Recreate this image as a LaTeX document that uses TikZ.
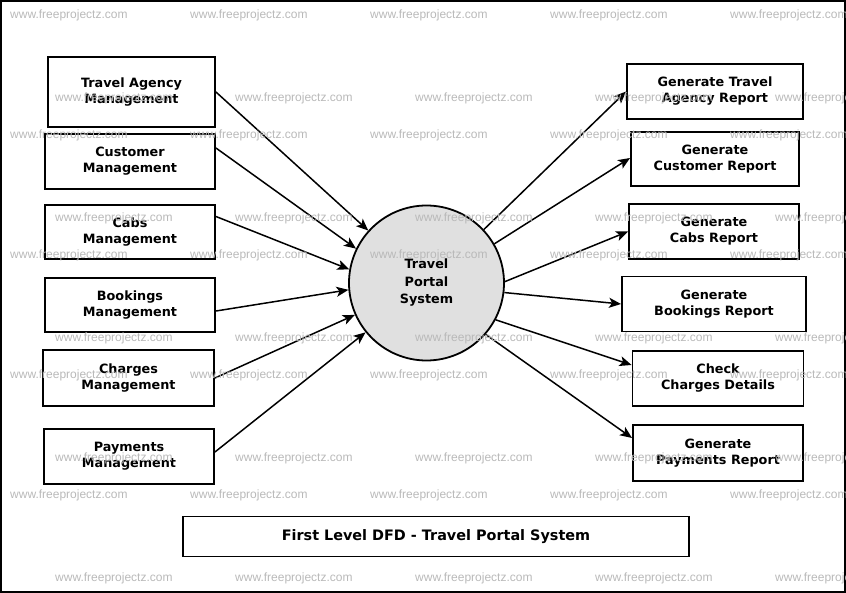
\documentclass[tikz,border=0pt]{standalone}
\usepackage{fontspec}
\setmainfont{DejaVu Sans}
\newfontfamily\wmfont{Liberation Sans}
\usetikzlibrary{arrows.meta,calc}
\definecolor{wmgray}{RGB}{185,185,185}
\definecolor{procfill}{RGB}{224,224,224}
\begin{document}
\begin{tikzpicture}[x=1pt,y=-1pt,
  ent/.style={draw=black,line width=1.9pt,fill=white,inner sep=0pt,align=center,
    font=\fontsize{12.8}{16}\selectfont\bfseries},
  flow/.style={draw=black,line width=1.5pt,-{Stealth[length=12pt,width=10pt,inset=3pt]}},
  wm/.style={text=wmgray,font=\wmfont\fontsize{12}{12}\selectfont,anchor=west,inner sep=0pt}]
\useasboundingbox (0,0) rectangle (846,593);
\draw[line width=2pt] (1,1) rectangle (844.5,591.5);
% left entities
\node[ent,minimum width=167pt,minimum height=70pt] (l1) at (131.5,92) {\strut Travel Agency\\\strut Management};
\node[ent,minimum width=170pt,minimum height=55pt] (l2) at (130,161.5) {\strut Customer\\\strut Management};
\node[ent,minimum width=170pt,minimum height=54pt] (l3) at (130,232) {\strut Cabs\\\strut Management};
\node[ent,minimum width=170pt,minimum height=54pt] (l4) at (130,305) {\strut Bookings\\\strut Management};
\node[ent,minimum width=171pt,minimum height=56pt] (l5) at (128.5,378) {\strut Charges\\\strut Management};
\node[ent,minimum width=170pt,minimum height=55pt] (l6) at (129,456.5) {\strut Payments\\\strut Management};
% right entities
\node[ent,minimum width=176pt,minimum height=55pt] (r1) at (715,91.5) {\strut Generate Travel\\\strut Agency Report};
\node[ent,minimum width=168pt,minimum height=54pt] (r2) at (715,159) {\strut Generate\\\strut Customer Report};
\node[ent,minimum width=170pt,minimum height=55pt] (r3) at (714,231.5) {\strut Generate\\\strut Cabs Report};
\node[ent,minimum width=184pt,minimum height=55pt] (r4) at (714,304) {\strut Generate\\\strut Bookings Report};
\node[ent,minimum width=171pt,minimum height=55pt] (r5) at (718,378.5) {\strut Check\\\strut Charges Details};
\node[ent,minimum width=170pt,minimum height=56pt] (r6) at (718,453) {\strut Generate\\\strut Payments Report};
% process
\node[circle,draw=black,line width=1.8pt,fill=procfill,minimum size=155pt,inner sep=0pt,align=center,
  font=\fontsize{12.8}{17.5}\selectfont\bfseries] (p) at (426.5,283) {\strut Travel\\\strut Portal\\\strut System};
% title
\node[ent,minimum width=506pt,minimum height=40pt,font=\fontsize{14.4}{16}\selectfont\bfseries] (t) at (436,536.5) {First Level DFD - Travel Portal System};
% flows in
\draw[flow] (l1.east) -- (p.138);
\draw[flow] ([yshift=13.5pt]l2.east) -- (p.154);
\draw[flow] ([yshift=15.5pt]l3.east) -- (p.170);
\draw[flow] ([yshift=-6pt]l4.east) -- (p.185);
\draw[flow] (l5.east) -- (p.204);
\draw[flow] ([yshift=4.5pt]l6.east) -- (p.219);
% flows out
\draw[flow] (p.43) -- (r1.west);
\draw[flow] (p.30) -- ([yshift=1pt]r2.west);
\draw[flow] (p.1) -- (r3.west);
\draw[flow] (p.-7) -- (r4.west);
\draw[flow] (p.-28) -- ([yshift=13.5pt]r5.west);
\draw[flow] (p.-41) -- ([yshift=15pt]r6.west);
% watermarks
\foreach \yy in {15,135,255,375,495}{
  \foreach \xx in {10,190,370,550,730}{
    \node[wm] at (\xx,\yy) {www.freeprojectz.com};
  }
}
\foreach \yy in {98,218,338,458,578}{
  \foreach \xx in {55,235,415,595,775}{
    \node[wm] at (\xx,\yy) {www.freeprojectz.com};
  }
}
\end{tikzpicture}
\end{document}
